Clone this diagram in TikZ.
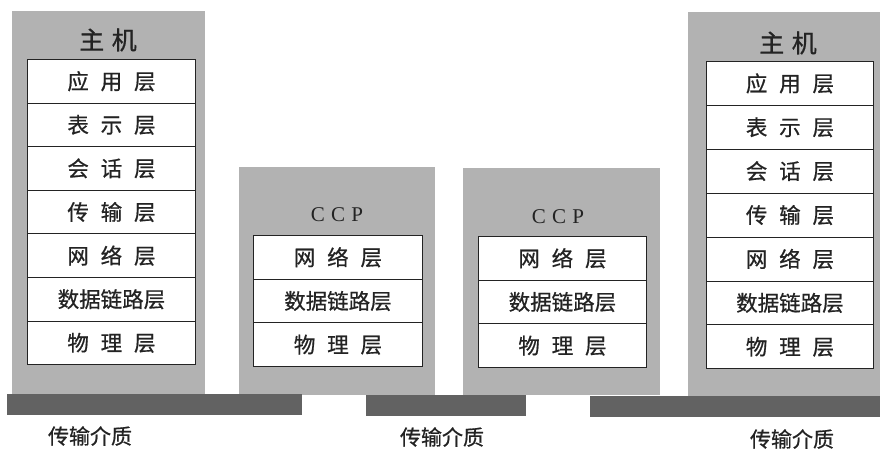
\documentclass[tikz,border=0pt]{standalone}
\usepackage{fontspec}
\newfontfamily\cjk{Noto Sans CJK SC}[FakeBold=0.7]
\setmainfont{Liberation Serif}
\definecolor{panelgray}{RGB}{178,178,178}
\definecolor{bargray}{RGB}{98,98,98}
\definecolor{inkc}{RGB}{35,35,35}
\newcommand\gp{\hspace{0.55em}}
\tikzset{
  panel/.style={fill=panelgray, draw=none, inner sep=0pt, anchor=north west},
  layerbox/.style={draw=inkc, line width=0.9pt, fill=white, inner sep=0pt, anchor=north west,
     text=inkc, font=\cjk\fontsize{21.5}{21.5}\selectfont},
  mediabar/.style={fill=bargray, draw=none, inner sep=0pt, anchor=north west},
  titletext/.style={text=inkc, font=\cjk\fontsize{25}{25}\selectfont},
  ccptext/.style={text=inkc, font=\fontsize{21}{21}\selectfont},
  medialabel/.style={text=inkc, font=\cjk\fontsize{21}{21}\selectfont}
}
\begin{document}
\begin{tikzpicture}[x=1pt,y=-1pt]
\useasboundingbox (0,0) rectangle (880,449);
% panels
\node[panel, minimum width=193pt, minimum height=384pt] (hostA) at (12,11) {};
\node[panel, minimum width=196pt, minimum height=228pt] (ccpA) at (239,167) {};
\node[panel, minimum width=197pt, minimum height=227pt] (ccpB) at (463,168) {};
\node[panel, minimum width=192pt, minimum height=385pt] (hostB) at (688,12) {};
% titles
\node[titletext] (titleA) at (108,40) {主\hspace{0.3em}机};
\node[titletext] (titleB) at (788,43) {主\hspace{0.3em}机};
\node[ccptext] (ccpTitleA) at (337,215) {C\hspace{0.3em}C\hspace{0.3em}P};
\node[ccptext] (ccpTitleB) at (558,217) {C\hspace{0.3em}C\hspace{0.3em}P};
% host A layers
\foreach \t [count=\i] in {应\gp 用\gp 层,表\gp 示\gp 层,会\gp 话\gp 层,传\gp 输\gp 层,网\gp 络\gp 层,数据链路层,物\gp 理\gp 层}{
  \node[layerbox, minimum width=168pt, minimum height=43.6pt] (hA\i) at (27,{59+43.6*(\i-1)}) {\t};
}
% host B layers
\foreach \t [count=\i] in {应\gp 用\gp 层,表\gp 示\gp 层,会\gp 话\gp 层,传\gp 输\gp 层,网\gp 络\gp 层,数据链路层,物\gp 理\gp 层}{
  \node[layerbox, minimum width=167pt, minimum height=43.9pt] (hB\i) at (706,{61+43.9*(\i-1)}) {\t};
}
% CCP A layers
\foreach \t [count=\i] in {网\gp 络\gp 层,数据链路层,物\gp 理\gp 层}{
  \node[layerbox, minimum width=169pt, minimum height=43.7pt] (cA\i) at (253,{235+43.7*(\i-1)}) {\t};
}
% CCP B layers
\foreach \t [count=\i] in {网\gp 络\gp 层,数据链路层,物\gp 理\gp 层}{
  \node[layerbox, minimum width=168pt, minimum height=43.7pt] (cB\i) at (478,{236+43.7*(\i-1)}) {\t};
}
% media bars
\node[mediabar, minimum width=295pt, minimum height=21pt] (barA) at (7,394) {};
\node[mediabar, minimum width=160pt, minimum height=21pt] (barB) at (366,395) {};
\node[mediabar, minimum width=290pt, minimum height=21pt] (barC) at (590,396) {};
% labels
\node[medialabel] (labA) at (90,436) {传输介质};
\node[medialabel] (labB) at (442,437) {传输介质};
\node[medialabel] (labC) at (792,439) {传输介质};
\end{tikzpicture}
\end{document}
